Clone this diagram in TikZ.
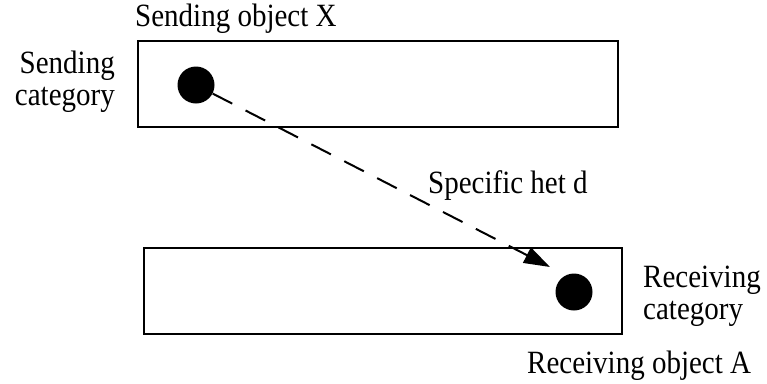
\documentclass[tikz,border=0pt]{standalone}
\usepackage{fontspec}
\setmainfont{Liberation Serif}
\usetikzlibrary{arrows.meta}
\newcommand{\tallt}[1]{\scalebox{1}[1.12]{#1}}
\begin{document}
\begin{tikzpicture}[x=1pt,y=-1pt,
  catbox/.style={draw=black, line width=2pt, minimum width=#1, minimum height=86pt, inner sep=0pt},
  dot/.style={circle, fill=black, minimum size=37pt, inner sep=0pt},
  lbl/.style={inner sep=0pt, font=\fontsize{29}{32}\selectfont},
  hetarrow/.style={line width=2pt, dash pattern=on 22pt off 15pt, -{Triangle[length=26pt,width=17pt]}}
]
\useasboundingbox (0,0) rectangle (767,383);
\node[catbox=480pt] (top) at (378,84) {};
\node[catbox=478pt] (bot) at (383,291) {};
\node[dot] (x) at (196,85) {};
\node[dot] (a) at (574,292) {};
\coordinate (tip) at (550,267);
\draw[hetarrow] (x) -- (tip);
\node[lbl, anchor=base west] (sox) at (135,26) {\tallt{Sending object X}};
\node[lbl, anchor=base east, align=right] (sc) at (115,105) {\tallt{Sending}\\\tallt{category}};
\node[lbl, anchor=base west] (het) at (428,193) {\tallt{Specific het d}};
\node[lbl, anchor=base west, align=left] (rc) at (643,319) {\tallt{Receiving}\\\tallt{category}};
\node[lbl, anchor=base west] (roa) at (527,373) {\tallt{Receiving object A}};
\end{tikzpicture}
\end{document}
